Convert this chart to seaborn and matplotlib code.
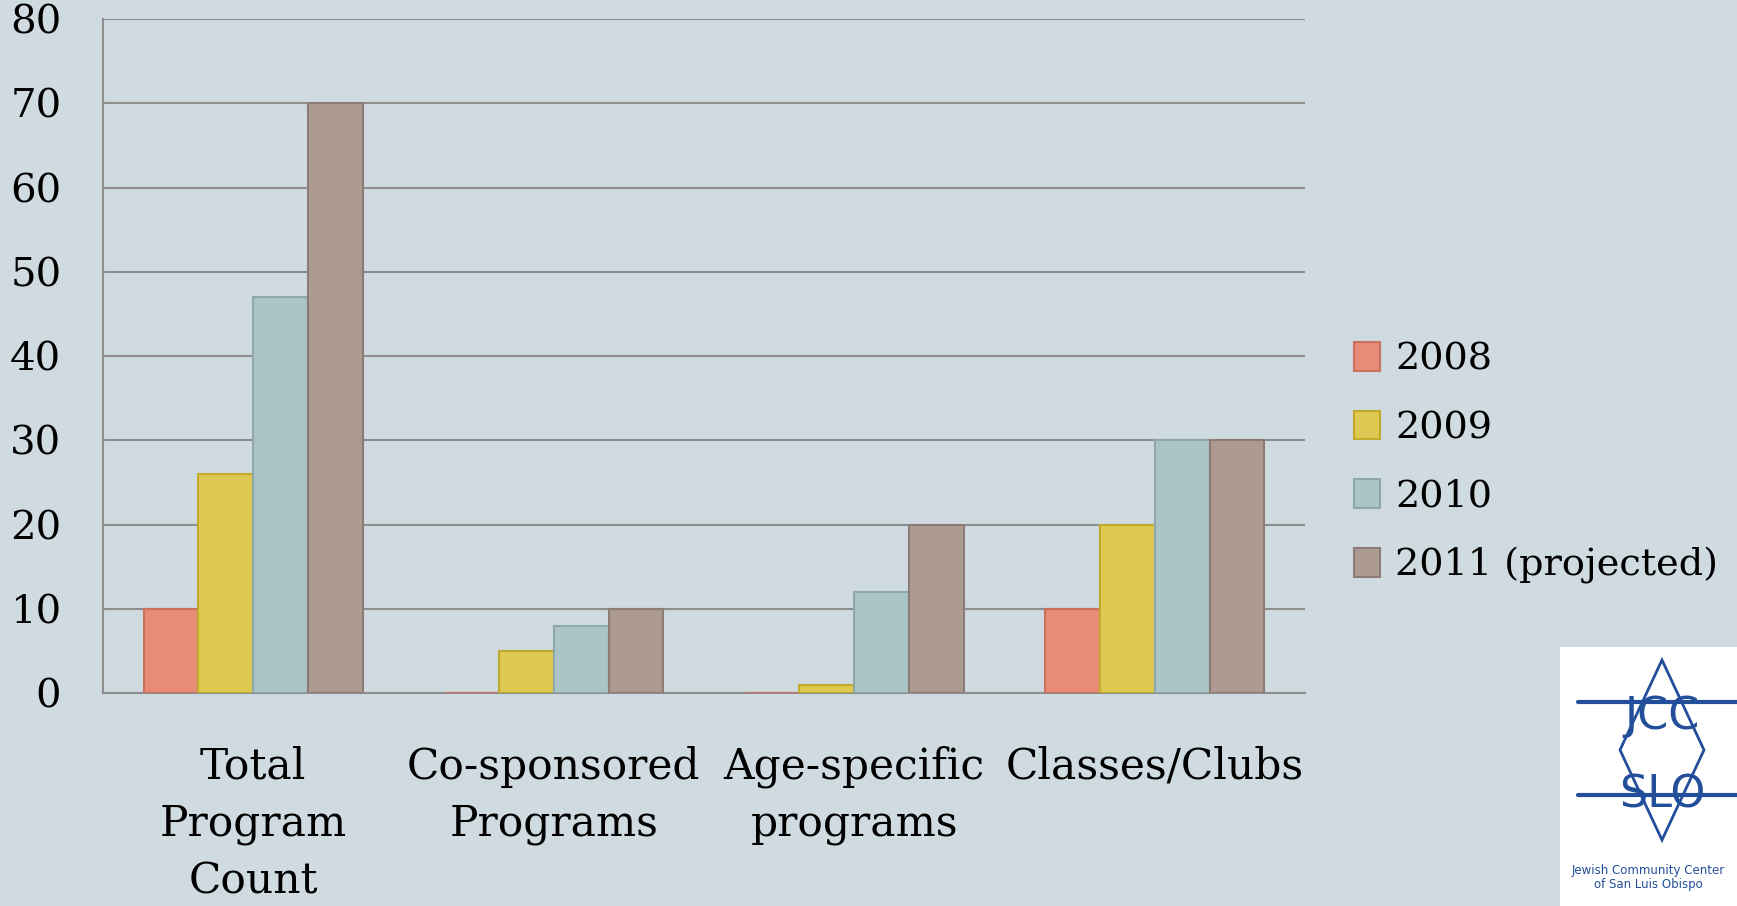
import pandas as pd
import numpy as np
import seaborn as sns
import matplotlib.pyplot as plt
from matplotlib.patches import Rectangle, Polygon
from matplotlib.lines import Line2D

# ---- data ----
categories = ["Total\nProgram\nCount", "Co-sponsored\nPrograms", "Age-specific\nprograms", "Classes/Clubs"]
years = ["2008", "2009", "2010", "2011 (projected)"]
v2008 = [10, 0, 0, 10]
v2009 = [26, 5, 1, 20]
v2010 = [47, 8, 12, 30]
v2011 = [70, 10, 20, 30]
colors = ["#E88C78", "#DEC952", "#ABC5C7", "#AC9A93"]
edges = ["#C9705E", "#C2AA2A", "#8FA9AB", "#8C7C76"]

df = pd.DataFrame({
    "category": categories * 4,
    "year": [y for y in years for _ in categories],
    "value": v2008 + v2009 + v2010 + v2011,
})

bg = "#CFDBE1"
logo_blue = "#234F9A"
sns.set_theme(style="white")
plt.rcParams["font.family"] = ["DejaVu Serif"]
plt.rcParams["text.color"] = "black"
plt.rcParams["xtick.labelcolor"] = "black"
plt.rcParams["ytick.labelcolor"] = "black"

fig = plt.figure(figsize=(17.37, 9.06), dpi=100, facecolor=bg)
ax = fig.add_axes([0.0593, 0.235, 0.692, 0.744])
ax.set_facecolor(bg)

sns.barplot(data=df, x="category", y="value", hue="year", palette=colors,
            width=0.73, saturation=1, ax=ax, legend=False, zorder=3)
for i, cont in enumerate(ax.containers):
    for bar in cont:
        bar.set_edgecolor(edges[i])
        bar.set_linewidth(1.5)

ax.set_ylim(0, 80)
ax.set_xlim(-0.5, 3.5)
ax.set_yticks(range(0, 81, 10))
ax.yaxis.grid(True, color="#8E8E8E", linewidth=1.5, zorder=0)
ax.tick_params(axis="y", length=10, width=1.5, color="#8E8E8E", labelsize=29, pad=20,
               labelcolor="black")
ax.set_xticks(range(4))
ax.set_xticklabels(categories, fontsize=30.5, linespacing=1.45)
ax.tick_params(axis="x", length=0, pad=38, labelcolor="black")
ax.set_xticks([-0.5, 0.5, 1.5, 2.5, 3.5], minor=True)
ax.tick_params(axis="x", which="minor", length=10, width=1.5, color="#8E8E8E")
for s in ["top", "right"]:
    ax.spines[s].set_visible(False)
for s in ["left", "bottom"]:
    ax.spines[s].set_color("#8E8E8E")
    ax.spines[s].set_linewidth(1.5)
ax.set_xlabel("")
ax.set_ylabel("")

# legend
handles = [Rectangle((0, 0), 1, 1, facecolor=c, edgecolor=e, linewidth=1.5)
           for c, e in zip(colors, edges)]
leg = fig.legend(handles, years, loc="center left", bbox_to_anchor=(0.7705, 0.489),
                 frameon=False, fontsize=27.5, handlelength=0.68, handleheight=0.78,
                 handletextpad=0.4, labelspacing=0.85, borderaxespad=0)
for t in leg.get_texts():
    t.set_color("black")

# logo box
fig.patches.append(Rectangle((0.898, 0.0), 0.11, 0.286, transform=fig.transFigure,
                             facecolor="white", edgecolor="none"))
cx = 1662 / 1737
fig.patches.append(Polygon([(cx, 1 - 660 / 906), (cx + 42 / 1737, 1 - 750 / 906),
                            (cx, 1 - 840 / 906), (cx - 42 / 1737, 1 - 750 / 906)],
                           closed=True, transform=fig.transFigure, fill=False,
                           edgecolor=logo_blue, linewidth=2))
for yy in [702, 795]:
    fig.lines.append(Line2D([1578 / 1737, 1.0], [1 - yy / 906] * 2, transform=fig.transFigure,
                            color=logo_blue, linewidth=3))
fig.text(cx, 1 - 716 / 906, "JCC", ha="center", va="center", fontsize=32,
         color=logo_blue, family="DejaVu Sans")
fig.text(cx, 1 - 795 / 906, "SLO", ha="center", va="center", fontsize=32,
         color=logo_blue, family="DejaVu Sans")
fig.text(0.949, 0.032, "Jewish Community Center\nof San Luis Obispo", ha="center",
         va="center", fontsize=8.5, color=logo_blue, family="DejaVu Sans", linespacing=1.1)

fig.savefig("out.png", dpi=100, facecolor=bg)
